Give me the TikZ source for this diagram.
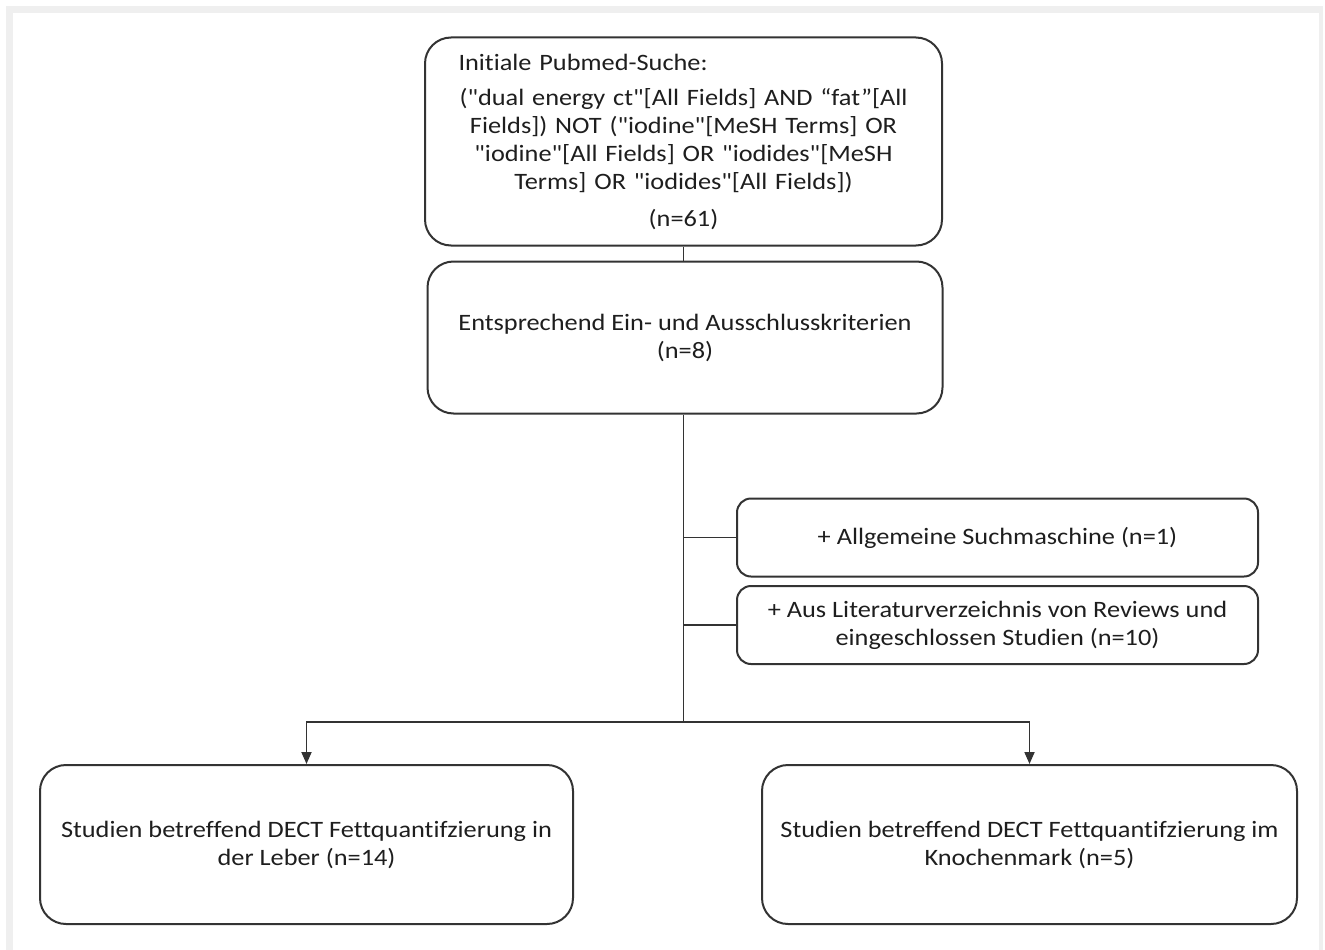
\documentclass[tikz,border=0pt]{standalone}
\usepackage{fontspec}
\setmainfont{Carlito}[FakeStretch=1.12,Ligatures={TeXOff,NoCommon}]
\usetikzlibrary{arrows.meta,positioning}
\definecolor{framegray}{HTML}{EFEFEF}
\definecolor{linegray}{HTML}{333333}
\definecolor{textgray}{HTML}{1E1E1E}
\tikzset{
  bigbox/.style={draw=linegray, line width=2pt, rounded corners=26pt, fill=white, align=center, inner sep=0pt, text=textgray},
  sidebox/.style={draw=linegray, line width=2pt, rounded corners=14pt, fill=white, align=center, inner sep=0pt, text=textgray, minimum width=521pt, minimum height=78pt},
  link/.style={draw=linegray, line width=1.8pt},
  arrow/.style={-{Triangle[length=12pt,width=10pt]}, draw=linegray, line width=1.8pt}
}
\begin{document}
\begin{tikzpicture}[x=1pt,y=-1pt,font=\fontsize{23.5}{28}\selectfont]
  \useasboundingbox (0,0) rectangle (1325,950);
  \fill[framegray] (6,6) rectangle (1323,950);
  \fill[white] (13,13) rectangle (1319,950);
  % boxes
  \node[bigbox, minimum width=517pt, minimum height=208pt, text width=450pt] (search) at (683.5,141.5)
    {Initiale Pubmed-Suche:\hfill\mbox{}\\[7pt]
     ("dual energy ct"[All Fields] AND “fat”[All\\
     Fields]) NOT ("iodine"[MeSH Terms] OR\\
     "iodine"[All Fields] OR "iodides"[MeSH\\
     Terms] OR "iodides"[All Fields])\\[9pt]
     (n=61)};
  \node[bigbox, minimum width=515pt, minimum height=152pt] (criteria) at (685,337.5)
    {Entsprechend Ein- und Ausschlusskriterien\\(n=8)};
  \node[sidebox] (engine) at (997.5,537.5) {+ Allgemeine Suchmaschine (n=1)};
  \node[sidebox] (lit) at (997.5,625) {+ Aus Literaturverzeichnis von Reviews und\\eingeschlossen Studien (n=10)};
  \node[bigbox, minimum width=533pt, minimum height=159pt] (liver) at (306.5,844.5)
    {Studien betreffend DECT Fettquantifzierung in\\der Leber (n=14)};
  \node[bigbox, minimum width=535pt, minimum height=159pt] (marrow) at (1029.5,844.5)
    {Studien betreffend DECT Fettquantifzierung im\\Knochenmark (n=5)};
  % connectors
  \coordinate (split) at (683.5,722);
  \draw[link] (search.south) -- (search.south |- criteria.north);
  \draw[link] (split |- criteria.south) -- (split);
  \draw[link] (split |- engine.west) -- (engine.west);
  \draw[link] (split |- lit.west) -- (lit.west);
  \draw[arrow] (split) -| (liver.north);
  \draw[arrow] (split) -| (marrow.north);
\end{tikzpicture}
\end{document}
